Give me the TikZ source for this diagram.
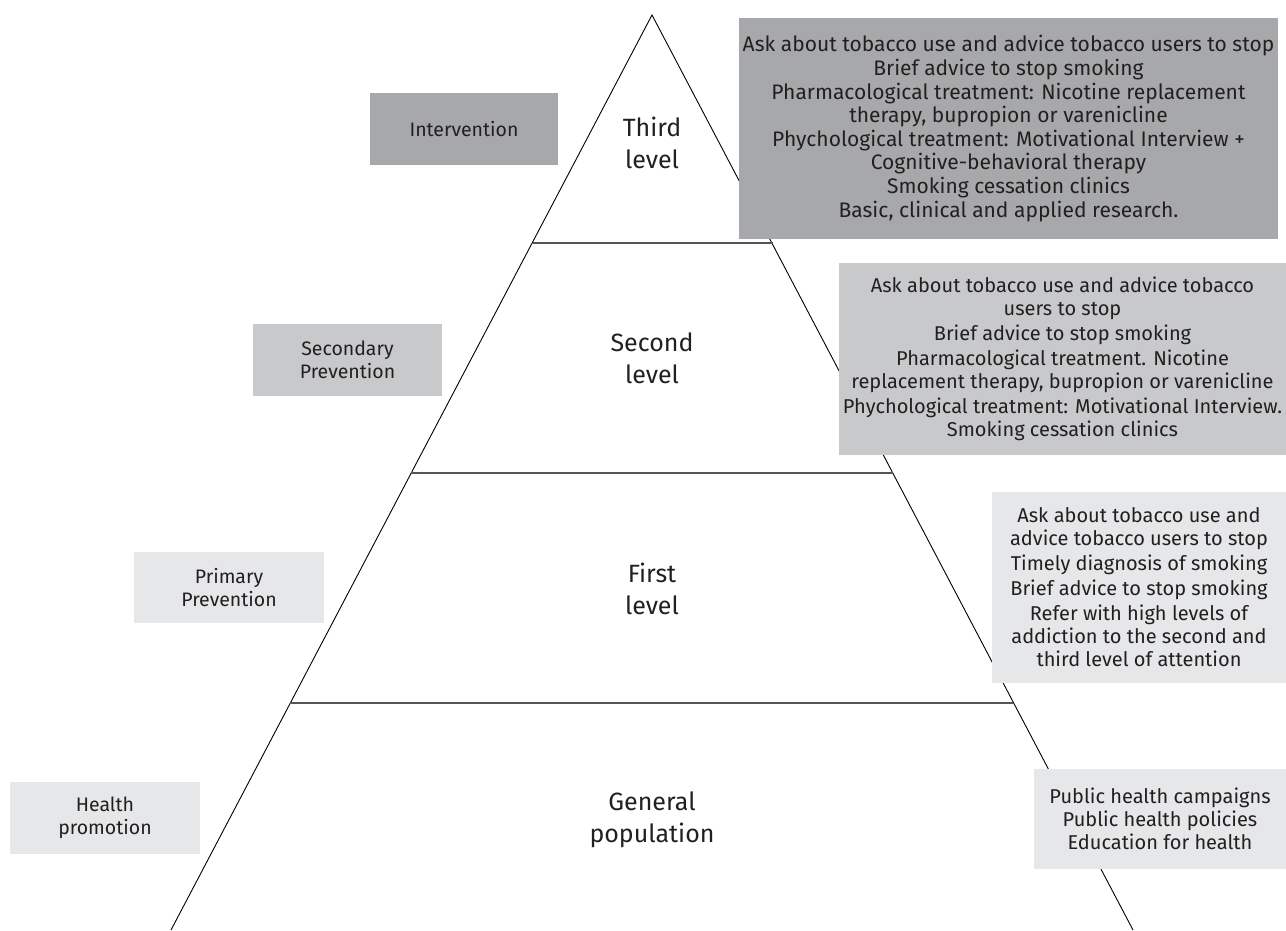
\documentclass[tikz,border=0pt]{standalone}
\usepackage{fontspec}
\setmainfont{Fira Sans}
\definecolor{dk}{HTML}{A7A8AA}
\definecolor{md}{HTML}{C8C9CB}
\definecolor{lt}{HTML}{E6E7E8}
\definecolor{txt}{HTML}{231F20}
\definecolor{hline}{HTML}{555555}
\begin{document}
\begin{tikzpicture}[x=1pt,y=-1pt,
  every node/.style={text=txt},
  panel/.style={inner sep=0pt, align=center, font=\fontsize{20}{23}\selectfont},
  tag/.style={inner sep=0pt, align=center, font=\fontsize{19.5}{23}\selectfont},
  lvl/.style={inner sep=0pt, align=center, font=\fontsize{25}{32}\selectfont},
  edge/.style={draw=black, line width=0.9pt},
  sep/.style={draw=hline, line width=1.6pt}]
\useasboundingbox (0,0) rectangle (1286,930);
% pyramid
\coordinate (apex) at (652,15);
\coordinate (bl) at (171,930);
\coordinate (br) at (1133,930);
\coordinate (l1) at (533,243);
\coordinate (r1) at (773,243);
\coordinate (l2) at (411,473);
\coordinate (r2) at (893,473);
\coordinate (l3) at (290,703);
\coordinate (r3) at (1013,703);
\draw[edge] (bl) -- (apex) -- (br);
\draw[sep] (l1) -- (r1);
\draw[sep] (l2) -- (r2);
\draw[sep] (l3) -- (r3);
% level labels
\node[lvl] (third) at (652,143) {Third\\level};
\node[lvl] (second) at (652,358) {Second\\level};
\node[lvl] (first) at (652,589) {First\\level};
\node[lvl] (general) at (652,820) {General\\population};
% left tags
\node[tag, fill=dk, minimum width=188pt, minimum height=72pt] (intv) at (464,129) {Intervention};
\node[tag, fill=md, minimum width=189pt, minimum height=72pt] (secp) at (347.5,360) {Secondary\\Prevention};
\node[tag, fill=lt, minimum width=190pt, minimum height=71pt] (prip) at (229,587.5) {Primary\\Prevention};
\node[tag, fill=lt, minimum width=190pt, minimum height=72pt] (hp) at (105,818) {Health\\promotion};
% right panels
\node[panel, fill=dk, minimum width=539pt, minimum height=221pt, font=\fontsize{21}{23}\selectfont] (p3) at (1008.5,128.5)
 {Ask about tobacco use and advice tobacco users to stop\\[1pt]
  Brief advice to stop smoking\\[1pt]
  Pharmacological treatment: Nicotine replacement\\
  therapy, bupropion or varenicline\\[1pt]
  Phychological treatment: Motivational Interview +\\
  Cognitive-behavioral therapy\\[1pt]
  Smoking cessation clinics\\[1pt]
  Basic, clinical and applied research.};
\node[panel, fill=md, minimum width=447pt, minimum height=192pt] (p2) at (1062.5,359)
 {Ask about tobacco use and advice tobacco\\
  users to stop\\[2pt]
  Brief advice to stop smoking\\[2pt]
  Pharmacological treatment. Nicotine\\
  replacement therapy, bupropion or varenicline\\[2pt]
  Phychological treatment: Motivational Interview.\\
  Smoking cessation clinics};
\node[panel, fill=lt, minimum width=294pt, minimum height=191pt] (p1) at (1139,587.5)
 {Ask about tobacco use and\\
  advice tobacco users to stop\\[2pt]
  Timely diagnosis of smoking\\[2pt]
  Brief advice to stop smoking\\[2pt]
  Refer with high levels of\\
  addiction to the second and\\
  third level of attention};
\node[panel, fill=lt, minimum width=252pt, minimum height=100pt] (p0) at (1160,819)
 {Public health campaigns\\
  Public health policies\\
  Education for health};
\end{tikzpicture}
\end{document}
